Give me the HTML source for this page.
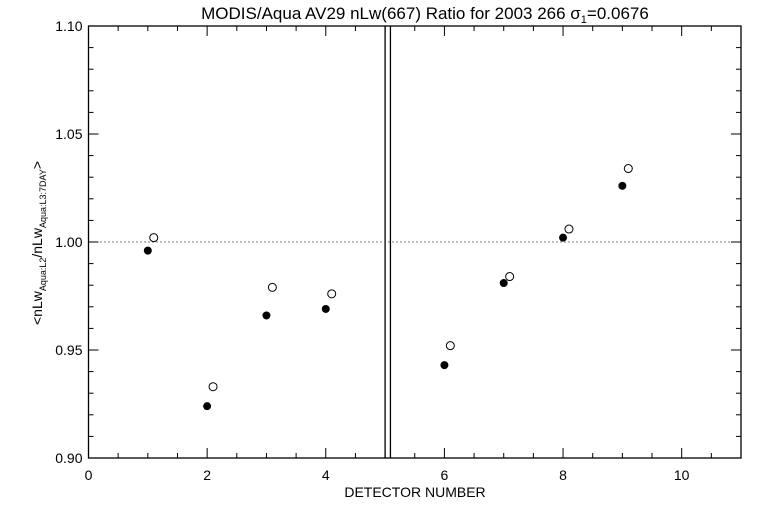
<!DOCTYPE html>
<html><head><meta charset="utf-8"><style>
html,body{margin:0;padding:0;background:#fff;}
svg{display:block;font-family:"Liberation Sans",sans-serif;}
</style></head><body>
<svg id="chart" width="768" height="512" viewBox="0 0 768 512">
<rect width="768" height="512" fill="#fff"/>
<text x="425" y="19" font-size="17" text-anchor="middle" fill="#000">MODIS/Aqua AV29 nLw(667) Ratio for 2003 266 σ<tspan font-size="11" dy="4">1</tspan><tspan dy="-4">=0.0676</tspan></text>
<text transform="translate(42,243) rotate(-90)" font-size="14" text-anchor="middle" fill="#000">&lt;nLw<tspan font-size="9" dy="4">Aqua:L2</tspan><tspan dy="-4">/nLw</tspan><tspan font-size="9" dy="4">Aqua:L3:7DAY</tspan><tspan dy="-4">&gt;</tspan></text>
<text x="415" y="497" font-size="14" text-anchor="middle" fill="#000">DETECTOR NUMBER</text>
<g id="axes"></g>
<g id="marks"></g>
</svg>
<script>
const detectors = [1,2,3,4,6,7,8,9];
const filledValues = [0.996,0.924,0.966,0.969,0.943,0.981,1.002,1.026];
const openValues = [1.002,0.933,0.979,0.976,0.952,0.984,1.006,1.034];
const xTickLabels = ["0","2","4","6","8","10"];
const yTickLabels = ["0.90","0.95","1.00","1.05","1.10"];
const openOffset = 0.1;
const dividerPositions = [5.0, 5.09];
const refLine = 1.0;

const L=88.5,R=741,T=26,B=458;
const xMin=0,xMax=11,yMin=0.90,yMax=1.10;
const sx=v=>L+(v-xMin)/(xMax-xMin)*(R-L);
const sy=v=>B-(v-yMin)/(yMax-yMin)*(B-T);
const NS="http://www.w3.org/2000/svg";
function mk(tag,attrs,parent){const e=document.createElementNS(NS,tag);for(const k in attrs)e.setAttribute(k,attrs[k]);parent.appendChild(e);return e;}
const axes=document.getElementById('axes'),marks=document.getElementById('marks');

const frame=mk('rect',{x:L,y:T,width:R-L,height:B-T,fill:'none',stroke:'#000','stroke-width':1.3},axes);



for(let v=0;v<=11.001;v+=0.5){
  const major=Math.abs(v/2-Math.round(v/2))<1e-6;const len=major?10:5;const x=sx(v);
  mk('line',{x1:x,y1:B,x2:x,y2:B-len,stroke:'#000'},axes);
  mk('line',{x1:x,y1:T,x2:x,y2:T+len,stroke:'#000'},axes);
}
xTickLabels.forEach(s=>{
  const t=mk('text',{x:sx(parseFloat(s)),y:B+22,'font-size':14,'text-anchor':'middle'},axes);t.textContent=s;
  
  
});
for(let i=0;i<=20;i++){
  const v=yMin+i*0.01;const major=i%5===0;const len=major?10:5;const y=sy(v);
  mk('line',{x1:L,y1:y,x2:L+len,y2:y,stroke:'#000'},axes);
  mk('line',{x1:R,y1:y,x2:R-len,y2:y,stroke:'#000'},axes);
}
yTickLabels.forEach(s=>{
  const t=mk('text',{x:L-6,y:sy(parseFloat(s))+5,'font-size':14,'text-anchor':'end'},axes);t.textContent=s;
  
  
});
const ref=mk('line',{x1:L,y1:sy(refLine),x2:R,y2:sy(refLine),stroke:'#000','stroke-dasharray':'1,3'},axes);


dividerPositions.forEach(d=>{
  const l=mk('line',{x1:sx(d),y1:T,x2:sx(d),y2:B,stroke:'#000','stroke-width':1.3},axes);
  
  
});
detectors.forEach((d,i)=>{
  const f=mk('circle',{cx:sx(d),cy:sy(filledValues[i]),r:4,fill:'#000'},marks);
  
  
  const o=mk('circle',{cx:sx(d+openOffset),cy:sy(openValues[i]),r:4,fill:'#fff',stroke:'#000','stroke-width':1},marks);
  
  
});
</script>
</body></html>
